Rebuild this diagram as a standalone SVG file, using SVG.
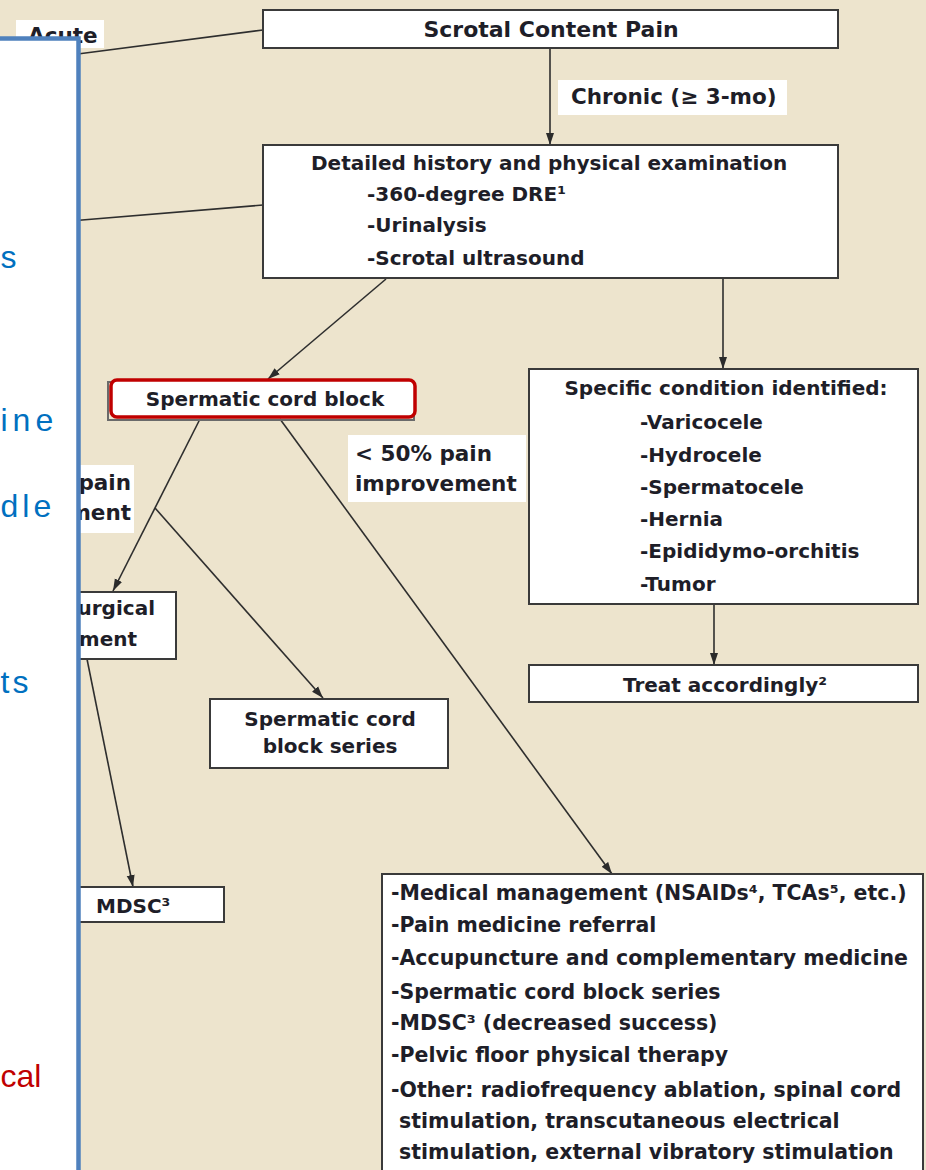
<svg xmlns="http://www.w3.org/2000/svg" width="926" height="1170" viewBox="0 0 926 1170">
  <defs>
    <marker id="arrow" markerUnits="userSpaceOnUse" markerWidth="12" markerHeight="9" refX="12" refY="4.5" orient="auto">
      <path d="M0,0.5 L12,4.5 L0,8.5 Z" fill="#2b2b2b"/>
    </marker>
    <style>
      .box{fill:#fff;stroke:#3a3a3a;stroke-width:2}
      .t{font-family:"DejaVu Sans",sans-serif;font-weight:bold;font-size:20px;fill:#1e1e28}
      .title{font-size:22px}
      .lbl{font-size:21.5px}
      .wide{font-size:20.5px}
      .mid{text-anchor:middle}
      .end{text-anchor:end}
      .lblbg{fill:#fff}
      .edge{fill:none;stroke:#2e2e2e;stroke-width:1.6}
      .arr{marker-end:url(#arrow)}
      .side{font-family:"Liberation Sans",Arial,sans-serif;font-size:32px;fill:#0070C0}
      .side-red{fill:#C00000}
    </style>
  </defs>

  <!-- page background -->
  <rect x="0" y="0" width="926" height="1170" fill="#EDE4CD"/>

  <!-- branch labels sitting under the side panel -->
  <g id="label-acute">
    <rect class="lblbg" x="16" y="20" width="88" height="28"/>
    <text class="t lbl" x="28" y="43">Acute</text>
  </g>
  <g id="label-gt50">
    <rect class="lblbg" x="80" y="465" width="54" height="68"/>
    <text class="t lbl end" x="131" y="490">pain</text>
    <text class="t lbl end" x="131" y="520">ment</text>
  </g>

  <!-- connectors -->
  <g id="connectors">
    <path class="edge" d="M70,55 L263,30"/>
    <path class="edge" d="M70,221 L263,205"/>
    <path class="edge arr" d="M550,48 L550,145"/>
    <path class="edge arr" d="M386,279 L268,379"/>
    <path class="edge arr" d="M723,278 L723,369"/>
    <path class="edge arr" d="M714,604 L714,665"/>
    <path class="edge arr" d="M200,419 L113,591"/>
    <path class="edge arr" d="M155,508 L323,698"/>
    <path class="edge arr" d="M87,659 L133,887"/>
    <path class="edge arr" d="M280,419 L612,874"/>
  </g>

  <g id="label-chronic">
    <rect class="lblbg" x="558" y="80" width="229" height="35"/>
    <text class="t lbl" x="571" y="104">Chronic (≥ 3-mo)</text>
  </g>
  <g id="label-lt50">
    <rect class="lblbg" x="348" y="435" width="178" height="67"/>
    <text class="t lbl" x="355" y="461">&lt; 50% pain</text>
    <text class="t lbl" x="355" y="491">improvement</text>
  </g>

  <!-- nodes -->
  <g id="node-scrotal-pain">
    <rect class="box" x="263" y="10" width="575" height="38"/>
    <text class="t title mid" x="551" y="37">Scrotal Content Pain</text>
  </g>

  <g id="node-history">
    <rect class="box" x="263" y="145" width="575" height="133"/>
    <text class="t" x="311" y="170">Detailed history and physical examination</text>
    <text class="t" x="367" y="201">-360-degree DRE¹</text>
    <text class="t" x="367" y="232">-Urinalysis</text>
    <text class="t" x="367" y="265">-Scrotal ultrasound</text>
  </g>

  <g id="node-cord-block">
    <rect x="108" y="382" width="306" height="38" fill="none" stroke="#6a6a6a" stroke-width="2"/>
    <rect x="111" y="380" width="304" height="37" rx="6" fill="#fff" stroke="#C00000" stroke-width="3.5"/>
    <text class="t mid" x="265" y="406">Spermatic cord block</text>
  </g>

  <g id="node-specific">
    <rect class="box" x="529" y="369" width="389" height="235"/>
    <text class="t mid" x="726" y="395">Specific condition identified:</text>
    <text class="t" x="640" y="429">-Varicocele</text>
    <text class="t" x="640" y="462">-Hydrocele</text>
    <text class="t" x="640" y="494">-Spermatocele</text>
    <text class="t" x="640" y="526">-Hernia</text>
    <text class="t" x="640" y="558">-Epididymo-orchitis</text>
    <text class="t" x="640" y="591">-Tumor</text>
  </g>

  <g id="node-treat">
    <rect class="box" x="529" y="665" width="389" height="37"/>
    <text class="t mid" x="725" y="692">Treat accordingly²</text>
  </g>

  <g id="node-surgical">
    <rect class="box" x="60" y="592" width="116" height="67"/>
    <text class="t end" x="155" y="615">urgical</text>
    <text class="t end" x="137" y="646">ment</text>
  </g>

  <g id="node-block-series">
    <rect class="box" x="210" y="699" width="238" height="69"/>
    <text class="t mid" x="330" y="726">Spermatic cord</text>
    <text class="t mid" x="330" y="753">block series</text>
  </g>

  <g id="node-mdsc">
    <rect class="box" x="60" y="887" width="164" height="35"/>
    <text class="t" x="96" y="913">MDSC³</text>
  </g>

  <g id="node-management">
    <rect class="box" x="382" y="874" width="541" height="320"/>
    <text class="t wide" x="391" y="900">-Medical management (NSAIDs⁴, TCAs⁵, etc.)</text>
    <text class="t wide" x="391" y="932">-Pain medicine referral</text>
    <text class="t wide" x="391" y="965">-Accupuncture and complementary medicine</text>
    <text class="t wide" x="391" y="999">-Spermatic cord block series</text>
    <text class="t wide" x="391" y="1030">-MDSC³ (decreased success)</text>
    <text class="t wide" x="391" y="1062">-Pelvic floor physical therapy</text>
    <text class="t wide" x="391" y="1097">-Other: radiofrequency ablation, spinal cord</text>
    <text class="t wide" x="399" y="1128">stimulation, transcutaneous electrical</text>
    <text class="t wide" x="399" y="1159">stimulation, external vibratory stimulation</text>
  </g>

  <!-- overlaid side panel -->
  <g id="side-panel">
    <rect x="-10" y="38.5" width="88.5" height="1150" fill="#fff" stroke="#4F81BD" stroke-width="4.5"/>
    <text class="side" x="0.5" y="268">s</text>
    <text class="side" x="0.5" y="431" letter-spacing="5">ine</text>
    <text class="side" x="0.5" y="517" letter-spacing="4">dle</text>
    <text class="side" x="0.5" y="693" letter-spacing="3">ts</text>
    <text class="side side-red" x="0.5" y="1087" font-size="30">cal</text>
  </g>
</svg>
